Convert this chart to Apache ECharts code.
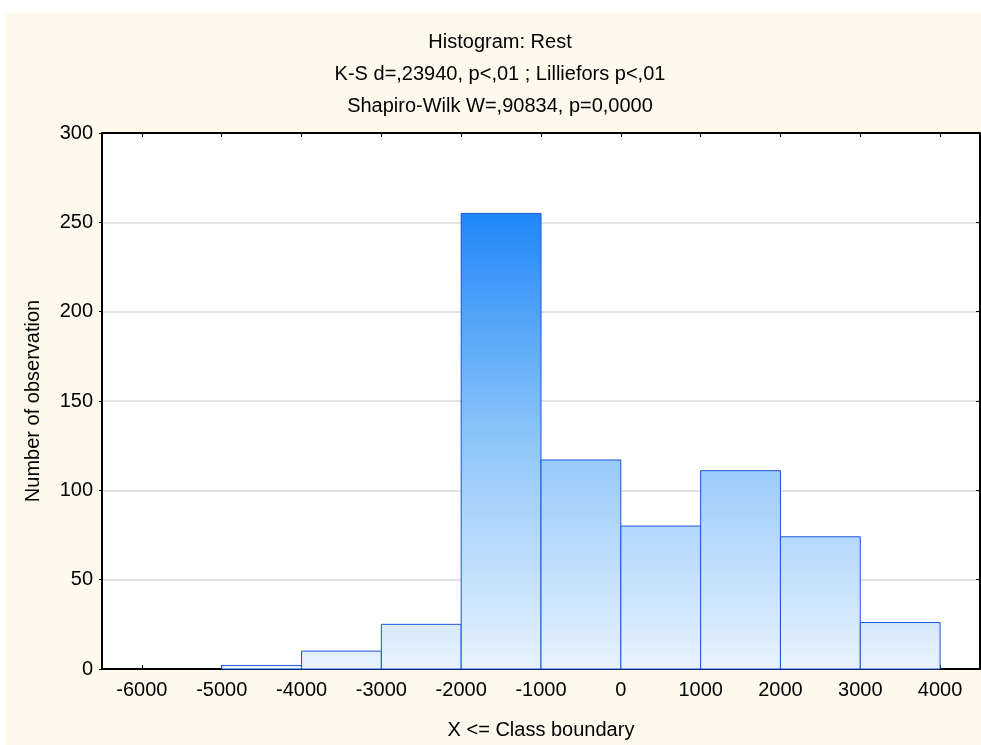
<!DOCTYPE html>
<html>
<head>
<meta charset="utf-8">
<script src="https://cdn.jsdelivr.net/npm/echarts@6/dist/echarts.min.js"></script>
<style>
html,body{margin:0;padding:0;background:#fff;}
#chart{width:981px;height:745px;}
</style>
</head>
<body>
<div id="chart"></div>
<script>
// class boundaries of each bin and its count
var binStart = [-5000, -4000, -3000, -2000, -1000, 0, 1000, 2000, 3000];
var binEnd   = [-4000, -3000, -2000, -1000, 0, 1000, 2000, 3000, 4000];
var counts   = [2, 10, 25, 255, 117, 80, 111, 74, 26];
var xTicks   = [-6000, -5000, -4000, -3000, -2000, -1000, 0, 1000, 2000, 3000, 4000];
var titleLines = ['Histogram: Rest', 'K-S d=,23940, p<,01 ; Lilliefors p<,01', 'Shapiro-Wilk W=,90834, p=0,0000'];

var font = '"Liberation Sans", Arial, sans-serif';
var maxCount = Math.max.apply(null, counts);

var data = [];
for (var i = 0; i < counts.length; i++) {
    data.push([binStart[i], binEnd[i], counts[i]]);
}

function renderBin(params, api) {
    var p0 = api.coord([api.value(0), api.value(2)]);
    var p1 = api.coord([api.value(1), 0]);
    var gTop = api.coord([0, maxCount])[1];
    var gBot = api.coord([0, 0])[1];
    var fill = new echarts.graphic.LinearGradient(0, gTop, 0, gBot, [
        { offset: 0, color: '#1f87f8' },
        { offset: 0.5, color: '#8fc6fa' },
        { offset: 1, color: '#e8f2fd' }
    ], true);
    return {
        type: 'rect',
        shape: { x: p0[0], y: p0[1], width: p1[0] - p0[0], height: p1[1] - p0[1] },
        style: { fill: fill, stroke: '#1b55d8', lineWidth: 1 }
    };
}

var titleGraphics = [];
for (var k = 0; k < titleLines.length; k++) {
    titleGraphics.push({
        type: 'text',
        style: { text: titleLines[k], x: 500, y: 42 + k * 32, align: 'center', verticalAlign: 'middle', font: '20px ' + font, fill: '#000' }
    });
}

var myChart = echarts.init(document.getElementById('chart'));
var option = {
    backgroundColor: '#fff',
    animation: false,
    textStyle: { fontFamily: font },
    graphic: [
        { type: 'rect', z: -10, shape: { x: 5, y: 13, width: 981, height: 740 }, style: { fill: '#fdf9ec' } }
    ].concat(titleGraphics),
    grid: {
        left: 102, right: 1, top: 133, bottom: 73,
        show: true, backgroundColor: '#fff', borderColor: '#000', borderWidth: 1
    },
    xAxis: [{
        type: 'value', min: -6500, max: 4500, position: 'bottom',
        name: 'X <= Class boundary', nameLocation: 'middle', nameGap: 51,
        nameTextStyle: { fontSize: 20, color: '#000' },
        axisLine: { show: true, onZero: false, lineStyle: { color: '#000', width: 2 } },
        axisTick: { show: true, inside: true, length: 4, customValues: xTicks, lineStyle: { color: '#000' } },
        axisLabel: {
            customValues: xTicks, fontSize: 20, color: '#000', margin: 11,
            formatter: function (v) { return String(v); }
        },
        splitLine: { show: false }
    }, {
        type: 'value', min: -6500, max: 4500, position: 'top',
        axisLine: { show: true, onZero: false, lineStyle: { color: '#000', width: 2 } },
        axisTick: { show: true, inside: true, length: 4, customValues: xTicks, lineStyle: { color: '#000' } },
        axisLabel: { show: false },
        splitLine: { show: false }
    }],
    yAxis: [{
        type: 'value', min: 0, max: 300, interval: 50, position: 'left',
        name: 'Number of observation', nameLocation: 'middle', nameGap: 59, nameRotate: 90,
        nameTextStyle: { fontSize: 20, color: '#000' },
        axisLine: { show: true, onZero: false, lineStyle: { color: '#000', width: 2 } },
        axisTick: { show: true, inside: false, length: 3, lineStyle: { color: '#000' } },
        axisLabel: { fontSize: 20, color: '#000', margin: 9 },
        splitLine: { show: true, lineStyle: { color: '#d8d8d8', width: 1.5 } }
    }, {
        type: 'value', min: 0, max: 300, interval: 50, position: 'right',
        axisLine: { show: true, onZero: false, lineStyle: { color: '#000', width: 2 } },
        axisTick: { show: true, inside: true, length: 4, lineStyle: { color: '#000' } },
        axisLabel: { show: false },
        splitLine: { show: false }
    }],
    series: [{
        type: 'custom',
        renderItem: renderBin,
        encode: { x: [0, 1], y: 2 },
        data: data,
        z: 5
    }]
};
myChart.setOption(option);
</script>
</body>
</html>
